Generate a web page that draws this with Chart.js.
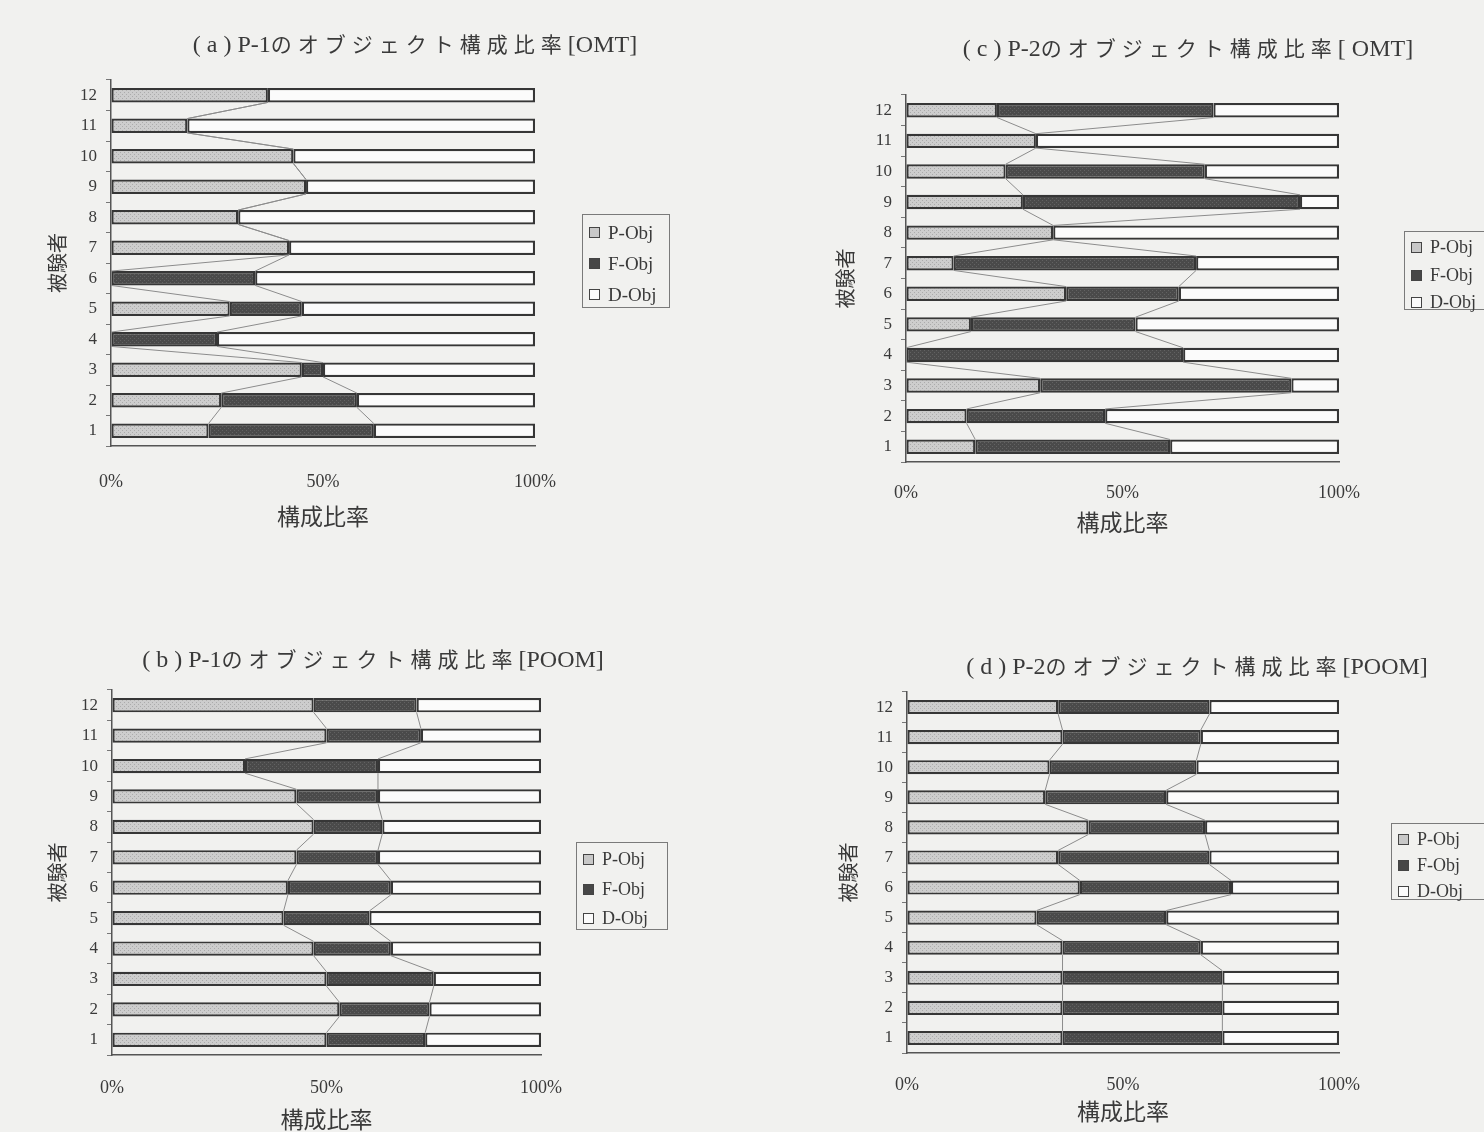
<!DOCTYPE html>
<html>
<head>
<meta charset="utf-8">
<script src="https://cdn.jsdelivr.net/npm/chart.js"></script>
<style>
  html, body { margin:0; padding:0; }
  body { width:1484px; height:1132px; background:#f1f1ef; position:relative; overflow:hidden;
         font-family:'Liberation Serif','Noto Sans CJK JP',serif; color:#3a3a3a; }
  canvas { position:absolute; }
  .ttl { position:absolute; transform:translate(-50%,-50%); white-space:nowrap; font-size:24px; }
  .ttl .jp { font-family:'Noto Sans CJK JP'; font-size:21px; letter-spacing:6px; }
  .lg { position:absolute; border:1px solid #7a7a7a; box-sizing:border-box; padding:2px 0 0 6px; }
  .lg div { display:flex; align-items:center; white-space:nowrap; }
  .lg span.sw { display:inline-block; width:9px; height:9px; border:1.5px solid #444; margin-right:8px; }
</style>
</head>
<body>
<canvas id="pa" width="742" height="566" style="left:0;top:0"></canvas>
<canvas id="pc" width="742" height="566" style="left:742px;top:0"></canvas>
<canvas id="pb" width="742" height="566" style="left:0;top:566px"></canvas>
<canvas id="pd" width="742" height="566" style="left:742px;top:566px"></canvas>
<script>
// subjects 1..12, share of each object kind in percent
const subjects = ['1','2','3','4','5','6','7','8','9','10','11','12'];
const seriesNames = ['P-Obj', 'F-Obj', 'D-Obj'];

// (a) P-1 / OMT
const p1OmtP = [23, 26, 45, 0, 28, 0, 42, 30, 46, 43, 18, 37];
const p1OmtF = [39, 32, 5, 25, 17, 34, 0, 0, 0, 0, 0, 0];
const p1OmtD = [38, 42, 50, 75, 55, 66, 58, 70, 54, 57, 82, 63];

// (b) P-1 / POOM
const p1PoomP = [50, 53, 50, 47, 40, 41, 43, 47, 43, 31, 50, 47];
const p1PoomF = [23, 21, 25, 18, 20, 24, 19, 16, 19, 31, 22, 24];
const p1PoomD = [27, 26, 25, 35, 40, 35, 38, 37, 38, 38, 28, 29];

// (c) P-2 / OMT
const p2OmtP = [16, 14, 31, 0, 15, 37, 11, 34, 27, 23, 30, 21];
const p2OmtF = [45, 32, 58, 64, 38, 26, 56, 0, 64, 46, 0, 50];
const p2OmtD = [39, 54, 11, 36, 47, 37, 33, 66, 9, 31, 70, 29];

// (d) P-2 / POOM
const p2PoomP = [36, 36, 36, 36, 30, 40, 35, 42, 32, 33, 36, 35];
const p2PoomF = [37, 37, 37, 32, 30, 35, 35, 27, 28, 34, 32, 35];
const p2PoomD = [27, 27, 27, 32, 40, 25, 30, 31, 40, 33, 32, 30];

const xTicks = [0, 50, 100];
const xTitle = '構成比率';
const yTitle = '被験者';

const serif = "'Liberation Serif','Noto Sans CJK JP',serif";
Chart.defaults.font.family = serif;
Chart.defaults.color = '#3a3a3a';

function dotPattern(bg, dot) {
  const c = document.createElement('canvas');
  c.width = 4; c.height = 4;
  const g = c.getContext('2d');
  g.fillStyle = bg; g.fillRect(0, 0, 4, 4);
  g.fillStyle = dot; g.fillRect(0, 0, 1, 1); g.fillRect(2, 2, 1, 1);
  return g.createPattern(c, 'repeat');
}
const fills = [dotPattern('#cdcdcd', '#ababab'), dotPattern('#4a4a4a', '#626262'), '#fbfbfb'];
const swatch = ['#c8c8c8', '#474747', '#fbfbfb'];

// thin lines joining the segment ends of neighbouring bars
const seriesLines = {
  id: 'seriesLines',
  afterDatasetsDraw(chart) {
    const ctx = chart.ctx;
    ctx.save();
    ctx.strokeStyle = '#8c8c8c';
    ctx.lineWidth = 1;
    [0, 1].forEach(di => {
      const bars = chart.getDatasetMeta(di).data;
      for (let i = 0; i < bars.length - 1; i++) {
        const a = bars[i], b = bars[i + 1];
        ctx.beginPath();
        ctx.moveTo(a.x, a.y - a.height / 2);
        ctx.lineTo(b.x, b.y + b.height / 2);
        ctx.stroke();
      }
    });
    ctx.restore();
  }
};

const panels = [
  { id: 'pa', title: '( a ) P-1のオブジェクト構成比率[OMT]', vals: [p1OmtP, p1OmtF, p1OmtD],
    tx: 415, ty: 43, padTop: 80, padRight: 207, yW: 111, xH: 120, tickPad: 25, xtPad: 38, ytPad: 47,
    lg: { left: 582, top: 214, w: 88, h: 94, lh: 31, fs: 19 } },
  { id: 'pc', title: '( c ) P-2のオブジェクト構成比率[ OMT]', vals: [p2OmtP, p2OmtF, p2OmtD],
    tx: 1188, ty: 47, padTop: 95, padRight: 145, yW: 164, xH: 104, tickPad: 20, xtPad: 32, ytPad: 93,
    lg: { left: 1404, top: 231, w: 95, h: 79, lh: 27.5, fs: 18 } },
  { id: 'pb', title: '( b ) P-1のオブジェクト構成比率[POOM]', vals: [p1PoomP, p1PoomF, p1PoomD],
    tx: 373, ty: 658, padTop: 124, padRight: 201, yW: 112, xH: 77, tickPad: 22, xtPad: 1, ytPad: 47,
    lg: { left: 576, top: 842, w: 92, h: 88, lh: 29.5, fs: 18 } },
  { id: 'pd', title: '( d ) P-2のオブジェクト構成比率[POOM]', vals: [p2PoomP, p2PoomF, p2PoomD],
    tx: 1197, ty: 665, padTop: 126, padRight: 145, yW: 165, xH: 79, tickPad: 21, xtPad: 9, ytPad: 96,
    lg: { left: 1391, top: 823, w: 100, h: 77, lh: 26, fs: 18 } }
];

panels.forEach(p => {
  const t = document.createElement('div');
  t.className = 'ttl';
  const m = p.title.match(/^(.*?)([\u3040-\u9fff]+)(.*)$/);
  const jp = document.createElement('span');
  jp.className = 'jp';
  jp.textContent = m[2];
  t.append(m[1], jp, m[3]);
  t.style.left = p.tx + 'px';
  t.style.top = p.ty + 'px';
  document.body.appendChild(t);

  const lg = document.createElement('div');
  lg.className = 'lg';
  Object.assign(lg.style, { left: p.lg.left + 'px', top: p.lg.top + 'px', width: p.lg.w + 'px',
    height: p.lg.h + 'px', fontSize: p.lg.fs + 'px' });
  seriesNames.forEach((n, i) => {
    const row = document.createElement('div');
    row.style.height = p.lg.lh + 'px';
    const sw = document.createElement('span');
    sw.className = 'sw';
    sw.style.background = swatch[i];
    row.appendChild(sw);
    row.appendChild(document.createTextNode(n));
    lg.appendChild(row);
  });
  document.body.appendChild(lg);

  new Chart(document.getElementById(p.id), {
    type: 'bar',
    data: {
      labels: subjects,
      datasets: seriesNames.map((n, i) => ({
        label: n,
        data: p.vals[i],
        backgroundColor: fills[i],
        borderColor: '#363636',
        borderWidth: 2.2,
        borderSkipped: false,
        barPercentage: 0.47,
        categoryPercentage: 1
      }))
    },
    options: {
      indexAxis: 'y',
      responsive: false,
      animation: false,
      layout: { padding: { top: p.padTop, right: p.padRight, left: 0, bottom: 0 } },
      plugins: { legend: { display: false }, title: { display: false }, tooltip: { enabled: false } },
      scales: {
        x: {
          stacked: true, min: 0, max: 100,
          afterFit: s => { s.height = p.xH; },
          afterBuildTicks: s => { s.ticks = xTicks.map(v => ({ value: v })); },
          ticks: { callback: v => v + '%', padding: p.tickPad, font: { size: 18 }, maxRotation: 0 },
          grid: { drawOnChartArea: false, drawTicks: false },
          border: { display: true, color: '#555', width: 1.5 },
          title: { display: true, text: xTitle, font: { family: "'Noto Sans CJK JP'", size: 23, lineHeight: 1 },
                   padding: { top: 0, bottom: p.xtPad } }
        },
        y: {
          stacked: true, reverse: true,
          afterFit: s => { s.width = p.yW; },
          ticks: { padding: 9, font: { size: 17 } },
          grid: { drawOnChartArea: false, tickLength: 5, offset: true, color: '#777' },
          border: { display: true, color: '#555', width: 1.5 },
          title: { display: true, text: yTitle, font: { family: "'Noto Sans CJK JP'", size: 20, lineHeight: 1 },
                   padding: { top: p.ytPad, bottom: 0 } }
        }
      }
    },
    plugins: [seriesLines]
  });
});
</script>
</body>
</html>
